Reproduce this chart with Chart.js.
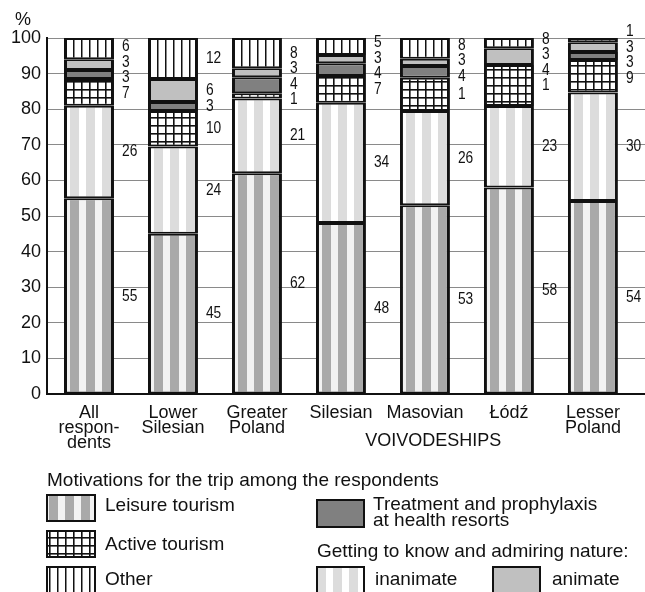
<!DOCTYPE html>
<html>
<head>
<meta charset="utf-8">
<script src="https://cdn.jsdelivr.net/npm/chart.js@4/dist/chart.umd.min.js"></script>
<style>
  html, body { margin: 0; padding: 0; background: #fff; }
  canvas { display: block; }
</style>
</head>
<body>
<canvas id="myChart" width="645" height="592"></canvas>
<script>
// categories on the x axis
const categories = [["All", "respon-", "dents"], ["Lower", "Silesian"], ["Greater", "Poland"],
    "Silesian", "Masovian", "Łódź", ["Lesser", "Poland"]];

// segment heights as drawn in the picture (%), bottom to top
const leisure   = [55, 45, 62, 48, 53, 58, 54.2];
const inanimate = [26, 24.5, 21, 33.8, 26.5, 22.9, 30.5];
const active    = [7.5, 10, 1.5, 7.5, 9.3, 11.5, 9.1];
const treatment = [2.5, 2.5, 4.5, 3.6, 3.3, 0, 2.3];
const animate   = [3, 6.5, 2.5, 2.3, 2.1, 4.7, 2.7];
const other     = [6, 11.5, 8.5, 4.8, 5.8, 2.9, 1.2];

// numbers printed next to the bars
const leisureLbl   = [55, 45, 62, 48, 53, 58, 54];
const inanimateLbl = [26, 24, 21, 34, 26, 23, 30];
const activeLbl    = [7, 10, 1, 7, 1, 1, 9];
const treatmentLbl = [3, 3, 4, 4, 4, 4, 3];
const animateLbl   = [3, 6, 3, 3, 3, 3, 3];
const otherLbl     = [6, 12, 8, 5, 8, 8, 1];

const yTicks = [0, 10, 20, 30, 40, 50, 60, 70, 80, 90, 100];

const FONT = '"Liberation Sans", Arial, sans-serif';

const canvas = document.getElementById('myChart');
const ctx = canvas.getContext('2d');

function makePattern(kind, shift) {
    let cv = document.createElement('canvas');
    let g;
    if (kind === 'leisure' || kind === 'inanimate') {
        cv.width = 16; cv.height = 4;
        g = cv.getContext('2d');
        g.fillStyle = kind === 'leisure' ? '#f2f2f2' : '#ffffff';
        g.fillRect(0, 0, 16, 4);
        g.fillStyle = kind === 'leisure' ? '#a9a9a9' : '#dcdcdc';
        g.fillRect(5, 0, 9, 4);
    } else if (kind === 'active') {
        cv.width = 8; cv.height = 8;
        g = cv.getContext('2d');
        g.fillStyle = '#fff';
        g.fillRect(0, 0, 8, 8);
        g.fillStyle = '#111';
        g.fillRect(0, 0, 1.6, 8);
        g.fillRect(0, 0, 8, 1.6);
    } else {
        cv.width = 8; cv.height = 4;
        g = cv.getContext('2d');
        g.fillStyle = '#fff';
        g.fillRect(0, 0, 8, 4);
        g.fillStyle = '#111';
        g.fillRect(0, 0, 1.5, 4);
    }
    let p = ctx.createPattern(cv, 'repeat');
    p.setTransform(new DOMMatrix().translate(shift, shift));
    return p;
}

const solid = { leisure: '#a9a9a9', inanimate: '#dcdcdc', active: '#666', other: '#999' };
const patCache = {};
function barFill(kind) {
    return function(c) {
        if (c.type !== 'data') return solid[kind];
        let sx = c.chart.scales.x;
        let left = Math.round(sx.getPixelForValue(c.dataIndex) - 25);
        let key = kind + left;
        if (!patCache[key]) patCache[key] = makePattern(kind, left + 1);
        return patCache[key];
    };
}

function ds(label, values, bg) {
    return {
        label: label,
        data: values.map((v, i) => ({ x: i, y: v === 0 ? null : v })),
        backgroundColor: bg,
        borderColor: '#111',
        borderWidth: { top: 2, bottom: 2, left: 3, right: 3 },
        borderSkipped: false,
        barPercentage: 0.595,
        categoryPercentage: 1
    };
}

const series = [
    ds('Leisure tourism', leisure, barFill('leisure')),
    ds('inanimate', inanimate, barFill('inanimate')),
    ds('Active tourism', active, barFill('active')),
    ds('Treatment and prophylaxis at health resorts', treatment, '#808080'),
    ds('animate', animate, '#c0c0c0'),
    ds('Other', other, barFill('other'))
];
const printed = [leisureLbl, inanimateLbl, activeLbl, treatmentLbl, animateLbl, otherLbl];

// numbers to the right of each bar
const valueLabels = {
    id: 'valueLabels',
    afterDatasetsDraw(chart) {
        let y = chart.scales.y;
        let c = chart.ctx;
        categories.forEach((cat, i) => {
            let el = chart.getDatasetMeta(0).data[i];
            let right = el.x + el.width / 2;
            let cum = 0;
            let pos = series.map((s, k) => {
                let v = s.data[i].y || 0;
                let mid = y.getPixelForValue(cum + v / 2);
                cum += v;
                return mid;
            });
            // push apart labels that are too close
            for (let it = 0; it < 80; it++) {
                for (let k = 0; k < pos.length - 1; k++) {
                    let gap = pos[k] - pos[k + 1];
                    if (gap < 15.5) {
                        let d = (15.5 - gap) / 2;
                        pos[k] += d;
                        pos[k + 1] -= d;
                    }
                }
            }
            printed.forEach((arr, k) => {
                c.save();
                c.translate(right + 8, pos[k]);
                c.scale(0.86, 1);
                c.font = '16px ' + FONT;
                c.fillStyle = '#111';
                c.textAlign = 'left';
                c.textBaseline = 'middle';
                c.fillText(String(arr[i]), 0, 0);
                c.restore();
            });
        });
    }
};

// legend and extra texts drawn below the chart
const extras = {
    id: 'extras',
    afterDraw(chart) {
        let c = chart.ctx;
        let sx = chart.scales.x;
        c.save();
        c.fillStyle = '#111';
        c.textBaseline = 'middle';
        c.font = '18px ' + FONT;
        c.textAlign = 'center';
        c.fillText('%', 23, 20);
        c.fillText('VOIVODESHIPS', sx.getPixelForValue(4.1), 441);

        c.font = '19px ' + FONT;
        c.textAlign = 'left';
        c.fillText('Motivations for the trip among the respondents', 47, 481);

        function box(x, y, w, h, fill) {
            c.fillStyle = fill;
            c.fillRect(x, y, w, h);
            c.strokeStyle = '#111';
            c.lineWidth = 2;
            c.strokeRect(x, y, w, h);
            c.fillStyle = '#111';
        }
        box(47, 495, 48, 26, makePattern('leisure', 44));
        c.fillText('Leisure tourism', 105, 506);
        box(47, 531, 48, 26, makePattern('active', 49));
        c.fillText('Active tourism', 105, 545);
        box(47, 567, 48, 26, makePattern('other', 49));
        c.fillText('Other', 105, 580);

        box(317, 500, 47, 27, '#808080');
        c.fillText('Treatment and prophylaxis', 373, 505);
        c.fillText('at health resorts', 373, 521);
        c.fillText('Getting to know and admiring nature:', 317, 552);
        box(317, 567, 47, 26, makePattern('inanimate', 312));
        c.fillText('inanimate', 375, 580);
        box(493, 567, 47, 26, '#c0c0c0');
        c.fillText('animate', 552, 580);
        c.restore();
    }
};

new Chart(ctx, {
    type: 'bar',
    data: { datasets: series },
    options: {
        responsive: false,
        animation: false,
        devicePixelRatio: 1,
        layout: { padding: { top: 38, left: 0, right: 0, bottom: 0 } },
        plugins: { legend: { display: false }, tooltip: { enabled: false } },
        scales: {
            x: {
                type: 'linear',
                stacked: true,
                offset: false,
                min: -0.5,
                max: 6.62,
                afterBuildTicks: (s) => { s.ticks = categories.map((c, i) => ({ value: i })); },
                afterFit: (s) => { s.height = 198; },
                grid: { display: false },
                border: { display: true, color: '#111', width: 2 },
                ticks: {
                    autoSkip: false,
                    maxRotation: 0,
                    padding: 3,
                    color: '#111',
                    font: { family: FONT, size: 18, lineHeight: 0.85 },
                    callback: (v) => categories[v]
                }
            },
            y: {
                stacked: true,
                min: 0,
                max: 100,
                afterBuildTicks: (s) => { s.ticks = yTicks.map(v => ({ value: v })); },
                afterFit: (s) => { s.width = 47; },
                grid: { color: '#8a8a8a', lineWidth: 1, drawTicks: false },
                border: { display: true, color: '#111', width: 2 },
                ticks: {
                    padding: 6,
                    color: '#111',
                    font: { family: FONT, size: 18 }
                }
            }
        }
    },
    plugins: [valueLabels, extras]
});
</script>
</body>
</html>
